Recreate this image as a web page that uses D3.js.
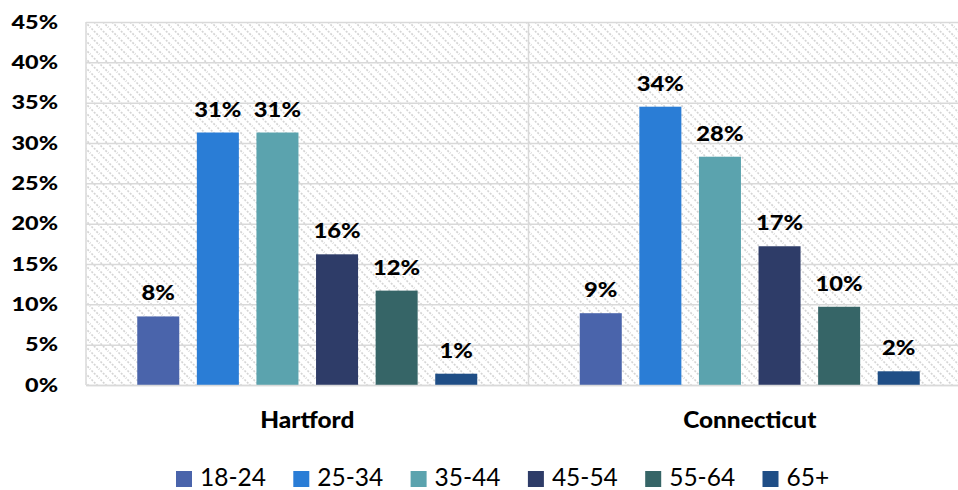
<!DOCTYPE html>
<html><head><meta charset="utf-8">
<script src="https://cdn.jsdelivr.net/npm/d3@7"></script>
<style>
html,body{margin:0;padding:0;background:#fff;}
svg{display:block;}
</style></head>
<body>
<svg id="chart" width="958" height="490"></svg>
<script>
const categories = ["Hartford", "Connecticut"];
const seriesNames = ["18-24", "25-34", "35-44", "45-54", "55-64", "65+"];
const hartford = [0.085, 0.313, 0.313, 0.162, 0.117, 0.014];
const connecticut = [0.089, 0.345, 0.283, 0.172, 0.097, 0.017];
const dataLabels = [["8%","31%","31%","16%","12%","1%"],["9%","34%","28%","17%","10%","2%"]];
const colors = ["#4A64AB", "#2A7DD6", "#5BA3AE", "#2E3C68", "#366567", "#1F4E86"];
const yTicks = [0,0.05,0.10,0.15,0.20,0.25,0.30,0.35,0.40,0.45];

const values = [hartford, connecticut];
const svg = d3.select("#chart");
const pLeft = 86, pRight = 971, pTop = 22, pBottom = 385;
const font = "Lato, 'Open Sans', sans-serif";

function stretch(sel, f){
  sel.each(function(){
    const w = this.getComputedTextLength();
    d3.select(this).attr("textLength", w*f).attr("lengthAdjust","spacingAndGlyphs");
  });
}

const defs = svg.append("defs");
const pat = defs.append("pattern").attr("id","hatch").attr("patternUnits","userSpaceOnUse")
  .attr("width",9).attr("height",9);
pat.append("rect").attr("width",9).attr("height",9).attr("fill","#fff");
pat.append("path").attr("d","M-1,-1 L10,10 M-1,8 L1,10 M8,-1 L10,1")
  .attr("stroke","#d4d4d4").attr("stroke-width",1.6).attr("stroke-dasharray","2,1.5");

const x0 = d3.scaleBand().domain(categories).range([pLeft,pRight]).paddingInner(0).paddingOuter(0);
const x1 = d3.scaleBand().domain(seriesNames).range([0,x0.bandwidth()]).paddingInner(0.295).paddingOuter(0.86);
const y = d3.scaleLinear().domain([0,0.45]).range([pBottom,pTop]);

svg.append("rect").attr("x",pLeft).attr("y",pTop).attr("width",pRight-pLeft).attr("height",pBottom-pTop)
  .attr("fill","url(#hatch)");

const yAxis = d3.axisLeft(y).tickValues(yTicks).tickSize(-(pRight-pLeft)).tickFormat(d=>Math.round(d*100)+"%");
const ga = svg.append("g").attr("transform",`translate(${pLeft},0)`).call(yAxis);
ga.select(".domain").remove();
ga.selectAll(".tick line").attr("stroke","#d9d9d9").attr("stroke-width",1.5);
ga.selectAll(".tick text").attr("x",-28).attr("font-family",font).attr("font-weight","900")
  .attr("font-size",19.5).attr("fill","#000").call(stretch,1.2);

svg.append("line").attr("x1",pLeft).attr("x2",pLeft).attr("y1",pTop).attr("y2",pBottom).attr("stroke","#d9d9d9").attr("stroke-width",1.5);
svg.append("line").attr("x1",x0("Connecticut")).attr("x2",x0("Connecticut")).attr("y1",pTop).attr("y2",pBottom).attr("stroke","#d9d9d9").attr("stroke-width",1.5);

categories.forEach((c,ci)=>{
  const g = svg.append("g").attr("transform",`translate(${x0(c)},0)`);
  g.selectAll("rect").data(values[ci]).join("rect")
    .attr("x",(d,i)=>x1(seriesNames[i])).attr("width",x1.bandwidth())
    .attr("y",d=>y(d)).attr("height",d=>pBottom-y(d)).attr("fill",(d,i)=>colors[i]);
  g.selectAll("text").data(values[ci]).join("text")
    .attr("x",(d,i)=>x1(seriesNames[i])+x1.bandwidth()/2).attr("y",d=>y(d)-16)
    .attr("text-anchor","middle").attr("font-family",font).attr("font-weight","900").attr("font-size",21)
    .text((d,i)=>dataLabels[ci][i]).call(stretch,1.13);
});

const xAxis = d3.axisBottom(x0).tickSize(0).tickPadding(0);
const gx = svg.append("g").attr("transform",`translate(0,${pBottom})`).call(xAxis);
gx.select(".domain").attr("stroke","#d9d9d9").attr("stroke-width",1.5);
gx.selectAll(".tick text").attr("y",43).attr("dy",0).attr("font-family",font).attr("font-weight","900")
  .attr("font-size",23).attr("fill","#000").call(stretch,1.06);

const lg = svg.append("g");
seriesNames.forEach((s,i)=>{
  const lx = 176 + i*117.3;
  lg.append("rect").attr("x",lx).attr("y",471).attr("width",16).attr("height",16).attr("fill",colors[i]);
  lg.append("text").attr("x",lx+24).attr("y",486).attr("font-family",font).attr("font-size",24.5).text(s);
});
</script>
</body></html>
